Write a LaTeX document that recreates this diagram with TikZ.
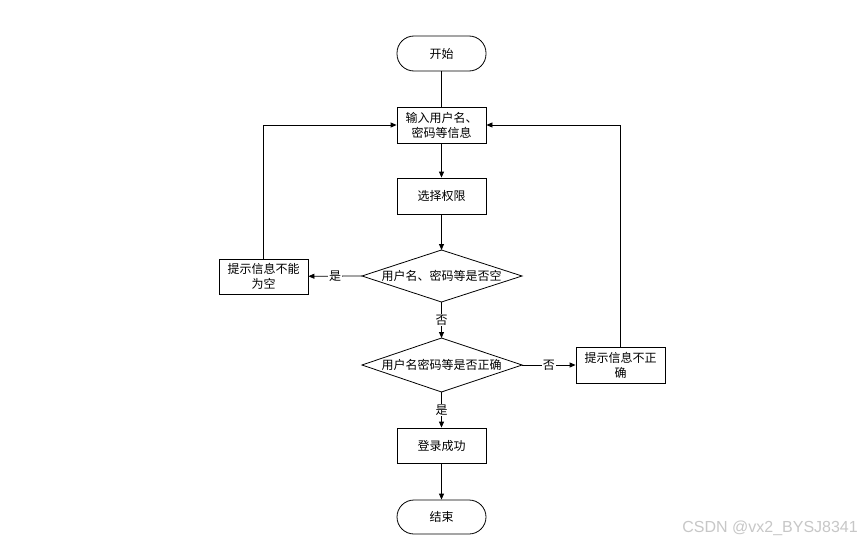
\documentclass[tikz,border=0pt]{standalone}
\usepackage{fontspec}
\setmainfont{Noto Sans CJK SC}
\newfontfamily\wmfont{Liberation Sans}
\usetikzlibrary{arrows.meta}
\begin{document}
\begin{tikzpicture}[x=1pt,y=-1pt,
  base/.style={draw=black,line width=0.8pt,font=\fontsize{12}{15}\selectfont,align=center,inner sep=1pt},
  procbox/.style={base,minimum width=89pt,minimum height=36pt},
  termbox/.style={base,minimum width=89pt,minimum height=35pt,rounded corners=17pt},
  conn/.style={line width=0.8pt,-{Triangle[length=6pt,width=5pt]}},
  lbl/.style={fill=white,inner sep=1pt,font=\fontsize{12}{14}\selectfont}
]
\useasboundingbox (0,0) rectangle (863,543);
\fill[white] (0,0) rectangle (863,543);

\node[termbox] (start) at (441.5,53.5) {开始};
\node[procbox] (input) at (441.5,125) {输入用户名、\\密码等信息};
\node[procbox] (perm) at (441.5,196) {选择权限};
% diamond 1
\coordinate (d1c) at (441.5,276);
\coordinate (d1t) at (441.5,250);
\coordinate (d1b) at (441.5,302);
\coordinate (d1l) at (362,276);
\coordinate (d1r) at (522,276);
\draw[line width=0.8pt] (d1t) -- (d1r) -- (d1b) -- (d1l) -- cycle;
\node[font=\fontsize{12}{14}\selectfont] (d1) at (d1c) {用户名、密码等是否空};
% diamond 2
\coordinate (d2c) at (441.5,365);
\coordinate (d2t) at (441.5,338);
\coordinate (d2b) at (441.5,392);
\coordinate (d2l) at (362,365);
\coordinate (d2r) at (522,365);
\draw[line width=0.8pt] (d2t) -- (d2r) -- (d2b) -- (d2l) -- cycle;
\node[font=\fontsize{12}{14}\selectfont] (d2) at (d2c) {用户名密码等是否正确};

\node[procbox,minimum height=35pt] (empty) at (263.5,276.5) {提示信息不能\\为空};
\node[procbox,minimum height=36pt] (wrong) at (620.5,365) {提示信息不正\\确};
\node[procbox,minimum height=35pt] (ok) at (441.5,445.5) {登录成功};
\node[termbox,minimum height=34pt] (end) at (441.5,517) {结束};

\draw[line width=0.8pt] (start) -- (input);
\draw[conn] (input) -- (perm);
\draw[conn] (perm) -- (d1t);
\draw[conn] (d1l) -- node[lbl] {是} (empty);
\draw[conn] (d1b) -- node[lbl] {否} (d2t);
\draw[conn] (d2r) -- node[lbl] {否} (wrong);
\draw[conn] (d2b) -- node[lbl] {是} (ok);
\draw[conn] (ok) -- (end);
\draw[conn] (empty.north) |- (input.west);
\draw[conn] (wrong.north) |- (input.east);

\node[anchor=east,text=black!22,inner sep=0pt,font=\wmfont\fontsize{16}{18}\selectfont] (wm) at (858,528) {CSDN @vx2\_BYSJ8341};
\end{tikzpicture}
\end{document}
